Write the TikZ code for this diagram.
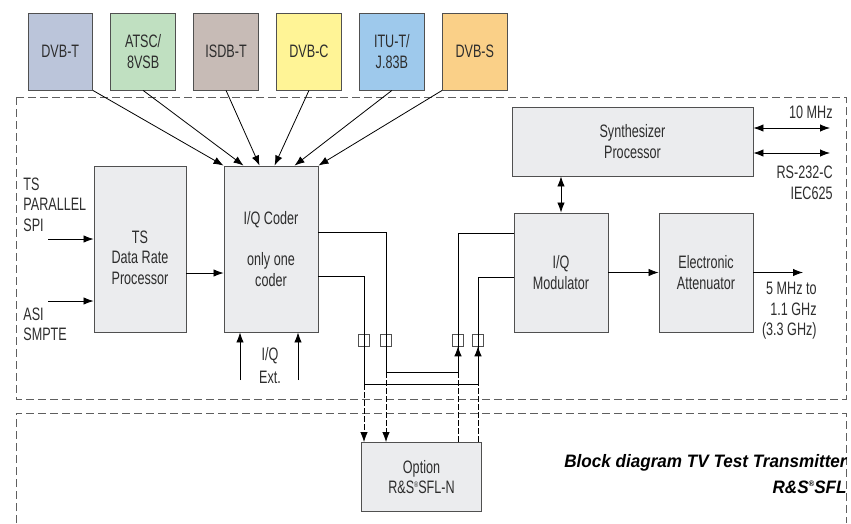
\documentclass[tikz,border=0pt]{standalone}
\usepackage{fontspec}
\setmainfont{Liberation Sans}[FakeStretch=0.7]
\newfontfamily\titlefont{Liberation Sans}[FakeStretch=0.95]
\usepackage{xcolor}
\usetikzlibrary{arrows.meta,positioning}
\definecolor{blkfill}{RGB}{235,236,238}
\definecolor{blkline}{RGB}{80,80,80}
\definecolor{framegray}{RGB}{95,95,95}
\definecolor{txtgray}{RGB}{45,45,45}
\definecolor{dvbtcol}{RGB}{187,197,218}
\definecolor{atsccol}{RGB}{192,224,193}
\definecolor{isdbcol}{RGB}{199,187,182}
\definecolor{dvbccol}{RGB}{255,244,150}
\definecolor{itucol}{RGB}{158,201,236}
\definecolor{dvbscol}{RGB}{250,208,136}
\newcommand{\rsreg}{\raisebox{6.5pt}{\fontsize{8}{8}\selectfont ®}}

\begin{document}
\begin{tikzpicture}[x=1pt,y=-1pt,>={Latex[length=10pt,width=7.5pt]},line width=0.8pt,
  font=\fontsize{18}{20.5}\selectfont,text=txtgray,
  blk/.style={draw=blkline,fill=blkfill,line width=0.9pt,align=center,inner sep=0pt},
  std/.style={draw=blkline,line width=0.9pt,align=center,inner sep=0pt,minimum width=64.5pt,minimum height=77pt},
  lbl/.style={align=center,inner sep=0pt},
  sq/.style={draw=blkline,line width=0.6pt,minimum width=11pt,minimum height=12pt,inner sep=0pt},
  frame/.style={draw=framegray,line width=0.8pt,dash pattern=on 8pt off 4pt},
  opt line/.style={dash pattern=on 6pt off 2pt}]
\useasboundingbox (0,0) rectangle (851,523);
% dashed outlines: instrument and option
\draw[frame] (16,97) rectangle (846,399);
\draw[frame] (16,523) |- (846,413) -- (846,523);
% standards
\node[std,fill=dvbtcol] (dvbt) at (60.25,51.5) {DVB-T};
\node[std,fill=atsccol,right=17.5pt of dvbt] (atsc) {ATSC/\\8VSB};
\node[std,fill=isdbcol,right=17.5pt of atsc] (isdbt) {ISDB-T};
\node[std,fill=dvbccol,right=17.5pt of isdbt] (dvbc) {DVB-C};
\node[std,fill=itucol,right=17.5pt of dvbc] (itut) {ITU-T/\\J.83B};
\node[std,fill=dvbscol,right=17.5pt of itut] (dvbs) {DVB-S};
% main blocks
\node[blk,minimum width=92pt,minimum height=166pt] (drp) at (140,249) {};
\node[lbl] (drptext) at ([yshift=-8.5pt]drp.center) {TS\\Data Rate\\Processor};
\node[blk,minimum width=94pt,minimum height=166pt] (coder) at (271,249) {I/Q Coder\\[20.5pt]only one\\coder};
\node[blk,minimum width=241pt,minimum height=69pt] (synth) at (632.5,141.5) {Synthesizer\\Processor};
\node[blk,minimum width=94pt,minimum height=119pt] (mod) at (561,272.5) {I/Q\\Modulator};
\node[blk,minimum width=94pt,minimum height=119pt] (att) at (706,272.5) {Electronic\\Attenuator};
\node[blk,minimum width=120pt,minimum height=69pt] (opt) at (421.5,477) {Option\\R\&S\rsreg SFL-N};
% inputs and outputs
\node[lbl,align=left,anchor=west] (tsin) at (23,204.5) {TS\\PARALLEL\\SPI};
\node[lbl,align=left,anchor=west] (asiin) at (23,324.5) {ASI\\SMPTE};
\node[lbl] (iqext) at (270,365.5) {I/Q\\[2.5pt]Ext.};
\node[lbl,align=right,anchor=east] (rftext) at (817,311) {5 MHz to\\1.1 GHz\\(3.3 GHz)};
\node[lbl,anchor=east] (clktext) at (833,112) {10 MHz};
\node[lbl,align=right,anchor=east] (rstext) at (833,183) {RS-232-C\\IEC625};
\node[lbl,align=right,anchor=east,text=black,font=\titlefont\fontsize{18}{25.5}\selectfont\bfseries\itshape] (title) at (847,474) {Block diagram TV Test Transmitter\\R\&S\rsreg SFL};
\coordinate (spi) at (48,239);
\coordinate (asi) at (48,301);
\coordinate (iqa) at (240,380);
\coordinate (iqb) at (298,380);
\coordinate (rfout) at (803,272.5);
\coordinate (clk) at (830,128);
\coordinate (rs) at (830,153);
% standards into the coder
\draw[->] (dvbt.south east) -- (coder.north west);
\draw[->] (atsc.south) -- ([xshift=20pt]coder.north west);
\draw[->] (isdbt.south) -- ([xshift=36pt]coder.north west);
\draw[->] (dvbc.south) -- ([xshift=51pt]coder.north west);
\draw[->] (itut.south) -- ([xshift=71pt]coder.north west);
\draw[->] (dvbs.south west) -- (coder.north east);
\draw[->] (spi) -- (spi -| drp.west);
\draw[->] (asi) -- (asi -| drp.west);
\draw[->] ([yshift=-24pt]drp.east) -- ([yshift=-24pt]coder.west);
\draw[->] (iqa) -- (iqa |- coder.south);
\draw[->] (iqb) -- (iqb |- coder.south);
\draw[<->] (mod.north |- synth.south) -- (mod.north);
\draw[<->] (clk -| synth.east) -- (clk);
\draw[<->] (rs -| synth.east) -- (rs);
\draw[->] (mod) -- (att);
\draw[->] (att.east) -- (rfout);
% I/Q paths, direct or through the option
\coordinate (qa) at (386,372);
\coordinate (qb) at (364,384);
\coordinate (ma) at (458,372);
\coordinate (mb) at (478,384);
\node[sq] (sq1) at (364,340) {};
\node[sq] (sq2) at (386,340) {};
\node[sq] (sq3) at (458,340) {};
\node[sq] (sq4) at (478,340) {};
\draw ([yshift=17pt]coder.east) -| (qa) -- (ma) |- ([yshift=39.5pt]mod.west);
\draw ([yshift=-27pt]coder.east) -| (qb) -- (mb) |- ([yshift=-4.5pt]mod.west);
\draw[->] (ma) -- (sq3.south);
\draw[->] (mb) -- (sq4.south);
\draw[opt line,->] (qa) -- (qa |- opt.north);
\draw[opt line,->] (qb) -- (qb |- opt.north);
\draw[opt line] (opt.north -| ma) -- (ma);
\draw[opt line] (opt.north -| mb) -- (mb);
\end{tikzpicture}
\end{document}
